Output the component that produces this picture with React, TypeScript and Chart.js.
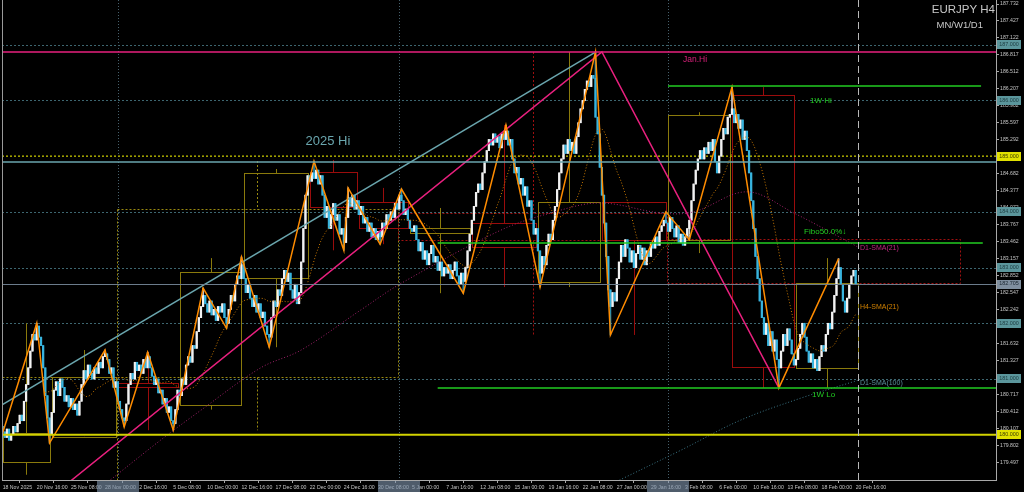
import { useEffect, useRef } from "react";
import { Chart, registerables } from "chart.js";

Chart.register(...registerables);

// ---------------- data ----------------
const titleText = "EURJPY H4";
const subtitleText = "MN/W1/D1";

const firstOpen = 180.15;
const closes: number[] = [
  180.05,179.95,180.10,179.90,180.00,180.15,180.05,180.20,180.35,180.25,
  180.60,180.90,181.20,181.50,181.80,181.70,181.95,181.75,181.60,181.20,
  180.70,180.30,180.02,180.40,180.80,180.95,180.70,181.00,180.85,180.60,
  180.70,180.50,180.65,180.45,180.55,180.35,180.60,180.90,181.15,181.00,
  181.25,181.10,181.00,181.20,181.10,181.30,181.20,181.40,181.45,181.35,
  181.10,181.20,180.85,180.95,180.60,180.45,180.30,180.25,180.55,180.90,
  181.10,181.00,181.30,181.15,181.25,181.10,181.35,181.20,181.40,181.20,
  181.05,180.90,181.00,180.75,180.80,180.55,180.65,180.40,180.50,180.25,
  180.20,180.45,180.80,180.70,181.00,180.90,181.25,181.40,181.30,181.60,
  181.55,181.85,182.10,182.30,182.50,182.35,182.20,182.40,182.15,182.25,
  182.05,182.30,182.20,182.35,182.10,182.00,182.25,182.50,182.40,182.70,
  182.85,182.80,183.05,182.80,182.55,182.70,182.45,182.30,182.50,182.20,
  182.35,182.10,182.20,181.95,181.80,181.75,182.10,182.40,182.30,182.60,
  182.50,182.80,182.95,182.75,182.90,182.60,182.45,182.70,182.35,182.55,
  183.10,183.70,184.30,184.65,184.55,184.70,184.60,184.75,184.50,184.65,
  184.30,183.90,184.10,183.70,183.95,184.15,183.85,183.95,183.60,183.70,
  183.45,183.90,184.25,184.10,184.30,184.05,184.20,183.95,184.10,183.80,
  183.90,183.65,183.80,183.55,183.70,183.50,183.65,183.55,183.80,183.70,
  183.95,183.85,184.00,183.90,184.15,184.05,184.30,184.20,183.95,184.05,
  183.85,183.70,183.65,183.75,183.50,183.30,183.45,183.15,183.30,183.05,
  183.25,183.40,183.10,183.20,182.95,183.10,182.85,183.00,182.90,183.05,
  182.80,182.95,183.10,182.85,182.70,182.90,182.75,183.00,183.30,183.60,
  183.85,184.10,184.35,184.50,184.40,184.70,184.90,185.10,185.30,185.20,
  185.40,185.25,185.35,185.15,185.40,185.30,185.45,185.20,185.30,184.95,
  184.70,184.80,184.50,184.60,184.30,184.45,184.10,184.20,183.85,183.60,
  183.70,183.30,182.90,183.20,183.05,183.40,183.60,183.50,183.85,184.10,
  184.40,184.70,184.95,185.20,185.05,185.30,185.10,185.25,185.05,185.35,
  185.60,185.85,186.00,186.20,186.35,186.25,186.45,186.40,185.70,185.40,
  184.80,184.30,183.80,183.20,182.60,182.30,182.55,182.40,182.80,183.10,
  183.40,183.20,183.50,183.35,183.10,183.30,183.00,183.25,183.40,183.15,
  183.35,183.05,183.30,183.20,183.45,183.35,183.55,183.40,183.65,183.75,
  183.85,183.80,183.65,183.90,183.70,183.55,183.75,183.45,183.60,183.40,
  183.55,183.70,183.85,184.20,184.50,184.75,184.95,185.10,184.95,185.15,
  185.05,185.25,185.10,185.30,184.90,184.70,185.00,185.30,185.50,185.40,
  185.70,185.75,185.85,185.60,185.75,185.50,185.65,185.30,185.45,185.10,
  184.70,184.20,183.70,183.20,182.80,182.40,182.10,181.80,182.00,181.60,
  181.85,181.50,181.70,181.35,181.20,181.50,181.80,181.60,181.90,181.70,
  181.45,181.25,181.35,181.55,181.80,182.00,181.75,181.50,181.30,181.45,
  181.20,181.35,181.15,181.40,181.60,181.50,181.80,182.00,181.90,182.20,
  182.50,182.80,183.00,182.70,182.40,182.20,182.45,182.70,182.85,182.95,
  182.70,
];

// zigzag pivots: [bar index, price]
const zigzag: [number, number][] = [
  [0, 180.03], [16, 182.0], [22, 179.85], [48, 181.52], [57, 180.14], [68, 181.48],
  [80, 180.08], [94, 182.63], [105, 181.91], [112, 183.19], [125, 181.57], [146, 184.91],
  [160, 183.31], [162, 184.43], [177, 183.42], [187, 184.41], [216, 182.54], [236, 185.56],
  [252, 182.65], [278, 186.87], [285, 181.79], [311, 184.0], [322, 183.5], [342, 186.24],
  [364, 180.84], [392, 183.16],
];

const dateLabels = [
  "18 Nov 2025", "20 Nov 16:00", "25 Nov 08:00", "28 Nov 00:00", "2 Dec 16:00", "5 Dec 08:00",
  "10 Dec 00:00", "12 Dec 16:00", "17 Dec 08:00", "22 Dec 00:00", "24 Dec 16:00", "30 Dec 08:00",
  "5 Jan 00:00", "7 Jan 16:00", "12 Jan 08:00", "15 Jan 00:00", "19 Jan 16:00", "22 Jan 08:00",
  "27 Jan 00:00", "29 Jan 16:00", "3 Feb 08:00", "6 Feb 00:00", "10 Feb 16:00", "13 Feb 08:00",
  "18 Feb 00:00", "20 Feb 16:00",
];
const barsPerLabel = 16;

const yTicks = [
  179.497, 179.802, 180.107, 180.412, 180.717, 181.022, 181.327, 181.632, 181.937, 182.242,
  182.547, 182.852, 183.157, 183.462, 183.767, 184.072, 184.377, 184.682, 184.987, 185.292,
  185.597, 185.902, 186.207, 186.512, 186.817, 187.122, 187.427, 187.732,
];
const yMin = 179.186;
const yMax = 187.804;
const xMin = -0.3;
const xMax = 465.8;

// D1 moving averages: [bar index, price]
const d1Sma21: [number, number][] = [
  [50.6, 179.19], [74, 179.9], [93, 180.44], [121, 181.2], [140, 181.52], [168, 182.24],
  [187, 182.72], [233.5, 183.67], [257, 183.98], [280, 184.16], [308.6, 183.98], [324, 184.0],
  [349, 184.36], [371, 183.98], [401, 183.37],
];
const d1Sma100: [number, number][] = [
  [280.4, 179.02], [291.2, 179.22], [318, 179.72], [346, 180.26], [374.6, 180.66], [401.4, 180.98],
];
const h4SmaPeriod = 21;

// trend lines: [bar index, price]
const tealTrend: [number, number][] = [[-1, 180.52], [278, 186.87]];
const magentaTrend: [number, number][] = [[30, 179.11], [281, 186.87], [364, 180.84]];

// levels
const roundLevels = [187, 186, 184, 183, 182, 181];
const level185 = 185;
const level180 = 180;
const janHi = 186.87;
const hi2025 = 184.895;
const lastPrice = 182.705;
const w1Hi = 186.26;
const fibo50 = 183.44;
const w1Lo = 180.84;
const w1HiSpan: [number, number] = [312, 458.8];
const fiboSpan: [number, number] = [204, 459.6];
const w1LoSpan: [number, number] = [204, 465.8];
const monthStarts = [54, 186, 312];
const currentBar = 401;

// weekly candles: [first bar, last bar, open, high, low, close]
const weekly: [number, number, number, number, number, number][] = [
  [0, 22, 179.51, 182.0, 179.28, 180.03],
  [23, 53, 179.96, 181.52, 179.96, 181.03],
  [54, 82, 180.93, 181.48, 180.08, 180.86],
  [83, 112, 180.53, 183.17, 180.45, 182.92],
  [113, 143, 182.81, 184.77, 181.57, 184.7],
  [144, 166, 184.72, 184.93, 183.31, 184.09],
  [167, 190, 184.18, 184.43, 183.42, 183.71],
  [191, 219, 183.62, 184.07, 182.54, 183.71],
  [220, 250, 183.8, 185.56, 182.65, 183.37],
  [251, 280, 182.74, 186.87, 182.65, 184.18],
  [281, 311, 184.18, 184.18, 181.79, 183.5],
  [312, 341, 183.5, 185.79, 183.26, 185.74],
  [342, 371, 186.1, 186.24, 180.84, 181.22],
  [372, 401, 181.2, 183.17, 180.84, 182.72],
];
// monthly candles: [start, end, open, high, low, close]
const monthly: [number, number, number, number, number, number][] = [
  [-0.3, 53.6, 177.6, 181.035, 177.0, 181.035],
  [53.6, 185.4, 181.035, 184.913, 180.08, 184.052],
  [185.4, 311.6, 183.98, 186.87, 181.79, 183.495],
  [311.6, 448.9, 183.513, 186.24, 180.84, 182.723],
];

// ---------------- derived series ----------------
const opens = closes.map((c, i) => (i === 0 ? firstOpen : closes[i - 1]));
const highs = closes.map((c, i) => Math.max(opens[i], c));
const lows = closes.map((c, i) => Math.min(opens[i], c));
zigzag.forEach(([i, p]) => {
  if (i < closes.length) {
    highs[i] = Math.max(highs[i], p);
    lows[i] = Math.min(lows[i], p);
  }
});
const h4Sma: { x: number; y: number }[] = [];
for (let i = h4SmaPeriod - 1; i < closes.length; i++) {
  let s = 0;
  for (let k = i - h4SmaPeriod + 1; k <= i; k++) s += closes[k];
  h4Sma.push({ x: i, y: s / h4SmaPeriod });
}
const pts = (a: [number, number][]) => a.map(([x, y]) => ({ x, y }));

const FONT = "'Liberation Sans', Arial, sans-serif";
const UP_BODY = "#f2f2f2";
const DN_BODY = "#38b4de";
const UP_WICK = "#cfcfcf";
const DN_WICK = "#2a8fb0";
const OLIVE = "#8a7a0c";
const RED = "#9a0c0c";
const GREEN = "#22cc22";
const MAGENTA = "#e8207e";
const TEAL = "#6aa6ae";

const overlay = {
  id: "mt4overlay",
  beforeDraw(chart: any) {
    const { ctx, width, height } = chart;
    ctx.save();
    ctx.fillStyle = "#000";
    ctx.fillRect(0, 0, width, height);
    ctx.restore();
  },
  beforeDatasetsDraw(chart: any) {
    const { ctx, chartArea: a, scales } = chart;
    const X = (v: number) => scales.x.getPixelForValue(v);
    const Y = (v: number) => scales.y.getPixelForValue(v);
    const snap = (v: number) => Math.round(v) + 0.5;
    const line = (x1: number, y1: number, x2: number, y2: number) => {
      ctx.beginPath();
      ctx.moveTo(x1, y1);
      ctx.lineTo(x2, y2);
      ctx.stroke();
    };
    ctx.save();
    ctx.beginPath();
    ctx.rect(a.left, a.top, a.right - a.left, a.bottom - a.top);
    ctx.clip();

    // round-number dotted levels
    ctx.lineWidth = 1;
    ctx.setLineDash([2, 2]);
    ctx.strokeStyle = "#3d6670";
    roundLevels.forEach((p) => line(a.left, snap(Y(p)), a.right, snap(Y(p))));
    // month separators
    ctx.setLineDash([1, 2]);
    ctx.strokeStyle = "#46606c";
    monthStarts.forEach((i) => line(snap(X(i)), a.top, snap(X(i)), a.bottom));

    // monthly boxes (dotted)
    ctx.setLineDash([2, 2]);
    monthly.forEach(([s, e, o, h, l, c], k) => {
      ctx.strokeStyle = c >= o ? "#9a8a10" : "#a01010";
      const x1 = snap(X(s)), x2 = snap(X(e));
      const yt = snap(Y(Math.max(o, c))), yb = snap(Y(Math.min(o, c)));
      ctx.strokeRect(x1, yt, x2 - x1, yb - yt);
      if (k > 0 && k < monthly.length - 1) {
        const xm = snap(X((s + e) / 2));
        line(xm, Y(h), xm, yt);
        line(xm, yb, xm, Y(l));
      }
    });

    // weekly boxes
    ctx.setLineDash([]);
    weekly.forEach(([s, e, o, h, l, c]) => {
      ctx.strokeStyle = c >= o ? OLIVE : RED;
      const x1 = snap(X(s)), x2 = snap(X(e));
      const yt = snap(Y(Math.max(o, c))), yb = snap(Y(Math.min(o, c)));
      ctx.strokeRect(x1, yt, x2 - x1, yb - yt);
      const xm = snap(X((s + e) / 2));
      line(xm, Y(h), xm, yt);
      line(xm, yb, xm, Y(l));
    });

    // 185 dotted yellow
    ctx.setLineDash([2, 2]);
    ctx.lineWidth = 1.5;
    ctx.strokeStyle = "#a8a800";
    line(a.left, Y(level185), a.right, Y(level185));
    ctx.restore();
  },
  afterDatasetsDraw(chart: any) {
    const { ctx, chartArea: a, scales } = chart;
    const X = (v: number) => scales.x.getPixelForValue(v);
    const Y = (v: number) => scales.y.getPixelForValue(v);
    const snap = (v: number) => Math.round(v) + 0.5;
    const line = (x1: number, y1: number, x2: number, y2: number) => {
      ctx.beginPath();
      ctx.moveTo(x1, y1);
      ctx.lineTo(x2, y2);
      ctx.stroke();
    };
    ctx.save();
    ctx.beginPath();
    ctx.rect(a.left, a.top, a.right - a.left, a.bottom - a.top);
    ctx.clip();

    ctx.setLineDash([]);
    // current price
    ctx.lineWidth = 1;
    ctx.strokeStyle = "#6c7c8c";
    line(a.left, snap(Y(lastPrice)), a.right, snap(Y(lastPrice)));
    // 2025 high
    ctx.lineWidth = 1.5;
    ctx.strokeStyle = TEAL;
    line(a.left, Y(hi2025), a.right, Y(hi2025));
    // January high
    ctx.strokeStyle = MAGENTA;
    line(a.left, Y(janHi), a.right, Y(janHi));
    // 180 yellow
    ctx.lineWidth = 2;
    ctx.strokeStyle = "#d2d200";
    line(a.left, Y(level180), a.right, Y(level180));
    // green levels
    ctx.lineWidth = 1.5;
    ctx.strokeStyle = GREEN;
    line(X(w1HiSpan[0]), Y(w1Hi), X(w1HiSpan[1]), Y(w1Hi));
    line(X(fiboSpan[0]), Y(fibo50), X(fiboSpan[1]), Y(fibo50));
    line(X(w1LoSpan[0]), Y(w1Lo), X(w1LoSpan[1]), Y(w1Lo));
    // current bar dashed line
    ctx.lineWidth = 1;
    ctx.setLineDash([7, 4]);
    ctx.strokeStyle = "#b8b8b8";
    line(snap(X(currentBar)), a.top, snap(X(currentBar)), a.bottom);
    ctx.setLineDash([]);

    // labels
    const text = (t: string, x: number, y: number, size: number, color: string, align: CanvasTextAlign = "left") => {
      ctx.font = `${size}px ${FONT}`;
      ctx.fillStyle = color;
      ctx.textAlign = align;
      ctx.textBaseline = "middle";
      ctx.fillText(t, x, y);
    };
    text("2025 Hi", X(142), Y(hi2025) - 21, 13, TEAL);
    text("Jan.Hi", X(319), Y(janHi) + 8, 8.5, "#d8207a");
    text("1W Hi", X(378.6), Y(w1Hi) + 15, 8, GREEN);
    text("Fibo50.0%\u2193", X(375.8), Y(fibo50) - 11, 8, GREEN);
    text("1W Lo", X(379.5), Y(w1Lo) + 7, 8, GREEN);
    const d21 = d1Sma21[d1Sma21.length - 1];
    text("D1-SMA(21)", X(402), Y(d21[1]) + 1, 7, "#c02a80");
    const h4 = h4Sma[h4Sma.length - 1];
    text("H4-SMA(21)", X(402), Y(h4.y) - 7, 7, "#d08000");
    const d100 = d1Sma100[d1Sma100.length - 1];
    text("D1-SMA(100)", X(402), Y(d100[1]) + 3, 7, "#5a8f9c");
    ctx.restore();
  },
  afterDraw(chart: any) {
    const { ctx, chartArea: a, scales, height } = chart;
    const X = (v: number) => scales.x.getPixelForValue(v);
    const Y = (v: number) => scales.y.getPixelForValue(v);
    ctx.save();
    // left frame
    ctx.strokeStyle = "#9a9a9a";
    ctx.lineWidth = 1;
    ctx.beginPath();
    ctx.moveTo(a.left + 0.5, a.top);
    ctx.lineTo(a.left + 0.5, a.bottom);
    ctx.stroke();

    // right axis price marks
    const mark = (p: number, bg: string, fg: string) => {
      const y = Y(p);
      ctx.fillStyle = bg;
      ctx.fillRect(a.right + 1, Math.round(y - 4.5), 24, 9);
      ctx.fillStyle = fg;
      ctx.font = `5.4px ${FONT}`;
      ctx.textAlign = "center";
      ctx.textBaseline = "middle";
      ctx.fillText(p.toFixed(3), a.right + 13, y);
    };
    roundLevels.forEach((p) => mark(p, "#5b969c", "#1c3c40"));
    mark(level185, "#e0e000", "#404000");
    mark(level180, "#e0e000", "#404000");
    mark(lastPrice, "#7f8f9f", "#1a2630");

    // x axis highlight boxes at month separators
    ctx.fillStyle = "rgba(128,148,172,0.62)";
    monthStarts.forEach((i) => {
      const x = X(i);
      ctx.fillRect(Math.round(x - 21), a.bottom + 1, 42, height - a.bottom - 1);
    });

    // title
    ctx.fillStyle = "#c8c8c8";
    ctx.textAlign = "right";
    ctx.textBaseline = "middle";
    ctx.font = `11.5px ${FONT}`;
    ctx.fillText(titleText, a.right - 1, 10);
    ctx.font = `9.5px ${FONT}`;
    ctx.fillText(subtitleText, a.right - 13, 25);
    ctx.restore();
  },
};

export default function App() {
  const ref = useRef<HTMLCanvasElement>(null);
  useEffect(() => {
    const canvas = ref.current;
    if (!canvas) return;
    const n = closes.length;
    const idx = closes.map((_, i) => i);
    const up = idx.map((i) => closes[i] >= opens[i]);
    const chart = new Chart(canvas, {
      type: "bar",
      data: {
        datasets: [
          {
            type: "bar",
            label: "wick",
            data: idx.map((i) => ({ x: i, y: [lows[i], highs[i]] })) as any,
            backgroundColor: up.map((u) => (u ? UP_WICK : DN_WICK)),
            barThickness: 1,
            grouped: false,
            borderWidth: 0,
            order: 20,
          } as any,
          {
            type: "bar",
            label: "body",
            data: idx.map((i) => ({ x: i, y: [opens[i], closes[i]] })) as any,
            backgroundColor: up.map((u) => (u ? UP_BODY : DN_BODY)),
            barThickness: 1.6,
            minBarLength: 1,
            grouped: false,
            borderWidth: 0,
            order: 19,
          } as any,
          {
            type: "line",
            label: "H4-SMA(21)",
            data: h4Sma,
            borderColor: "#c87800",
            borderWidth: 1,
            borderDash: [1, 2],
            pointRadius: 0,
            tension: 0,
            order: 10,
          } as any,
          {
            type: "line",
            label: "D1-SMA(21)",
            data: pts(d1Sma21),
            borderColor: "#a0206a",
            borderWidth: 1,
            borderDash: [1, 2],
            pointRadius: 0,
            tension: 0.35,
            order: 10,
          } as any,
          {
            type: "line",
            label: "D1-SMA(100)",
            data: pts(d1Sma100),
            borderColor: "#3a7484",
            borderWidth: 1,
            borderDash: [1, 2],
            pointRadius: 0,
            tension: 0.35,
            order: 10,
          } as any,
          {
            type: "line",
            label: "trend teal",
            data: pts(tealTrend),
            borderColor: TEAL,
            borderWidth: 1.5,
            pointRadius: 0,
            order: 5,
          } as any,
          {
            type: "line",
            label: "trend magenta",
            data: pts(magentaTrend),
            borderColor: MAGENTA,
            borderWidth: 1.5,
            pointRadius: 0,
            order: 5,
          } as any,
          {
            type: "line",
            label: "zigzag",
            data: pts(zigzag),
            borderColor: "#ff8c00",
            borderWidth: 1.5,
            pointRadius: 0,
            order: 4,
          } as any,
        ],
      },
      options: {
        responsive: false,
        animation: false,
        events: [],
        layout: { padding: { left: 2, right: 0, top: 0, bottom: 0 } },
        plugins: { legend: { display: false }, tooltip: { enabled: false } },
        scales: {
          x: {
            type: "linear",
            min: xMin,
            max: xMax,
            offset: false,
            position: "bottom",
            afterBuildTicks: (s: any) => {
              s.ticks = dateLabels.map((_, i) => ({ value: i * barsPerLabel }));
            },
            afterFit: (s: any) => {
              s.height = 12;
              s.paddingLeft = 0;
              s.paddingRight = 0;
            },
            ticks: {
              callback: (v: any) => dateLabels[Math.round(Number(v) / barsPerLabel)] ?? "",
              autoSkip: false,
              maxRotation: 0,
              minRotation: 0,
              align: "start",
              padding: 1,
              color: "#c4c4c4",
              font: { family: FONT, size: 5.2 },
            },
            grid: { drawOnChartArea: false, drawTicks: true, tickLength: 3, color: "#a8a8a8" },
            border: { display: true, color: "#a8a8a8", width: 1 },
          },
          y: {
            type: "linear",
            position: "right",
            min: yMin,
            max: yMax,
            afterBuildTicks: (s: any) => {
              s.ticks = yTicks.map((v) => ({ value: v }));
            },
            afterFit: (s: any) => {
              s.width = 28;
              s.paddingTop = 0;
              s.paddingBottom = 0;
            },
            ticks: {
              callback: (v: any) => Number(v).toFixed(3),
              autoSkip: false,
              padding: 1,
              color: "#c4c4c4",
              font: { family: FONT, size: 5.2 },
            },
            grid: { drawOnChartArea: false, drawTicks: true, tickLength: 3, color: "#a8a8a8" },
            border: { display: true, color: "#a8a8a8", width: 1 },
          },
        },
      } as any,
      plugins: [overlay as any],
    });
    void n;
    return () => chart.destroy();
  }, []);
  return (
    <div style={{ position: "fixed", left: 0, top: 0, width: 1024, height: 492, background: "#000" }}>
      <canvas ref={ref} width={1024} height={492} style={{ display: "block", width: 1024, height: 492 }} />
    </div>
  );
}
